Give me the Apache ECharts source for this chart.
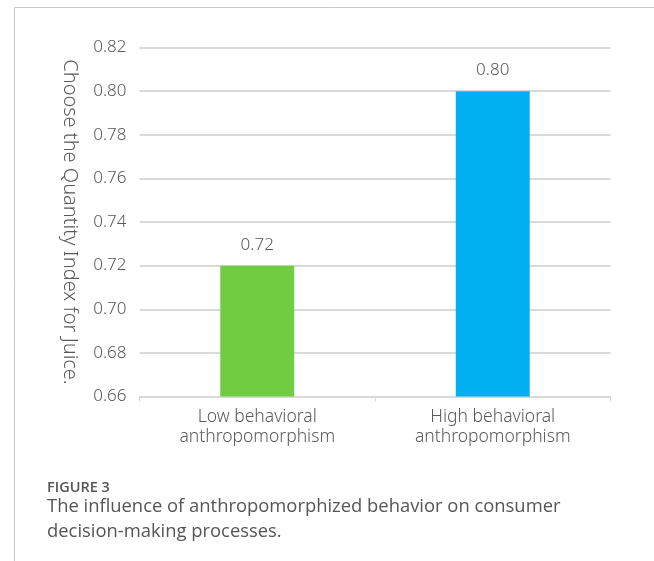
<!DOCTYPE html>
<html>
<head>
<meta charset="utf-8">
<style>
  html, body { margin: 0; padding: 0; background: #ffffff; }
  #chart { width: 654px; height: 561px; }
</style>
<script src="https://cdn.jsdelivr.net/npm/echarts@6/dist/echarts.min.js"></script>
</head>
<body>
<div id="chart"></div>
<script>
// Chart data
const categories = ['Low behavioral\nanthropomorphism', 'High behavioral\nanthropomorphism'];
const values = [0.72, 0.80];
const barColors = ['#70CC41', '#00B0F0'];
const yTicks = { min: 0.66, max: 0.82, step: 0.02 };
const yAxisTitle = 'Choose the Quantity Index for Juice.';
const figureLabel = 'FIGURE 3';
const captionLines = [
  'The influence of anthropomorphized behavior on consumer',
  'decision-making processes.'
];

const textColor = '#595959';
const chartFont = 'Noto Sans';
const chart = echarts.init(document.getElementById('chart'), null, { renderer: 'canvas' });

chart.setOption({
  animation: false,
  backgroundColor: '#ffffff',
  grid: { left: 139.5, right: 43.5, top: 47.5, bottom: 164.5, containLabel: false },
  xAxis: {
    type: 'category',
    data: categories,
    axisLine: { show: true, lineStyle: { color: '#d9d9d9', width: 1 } },
    axisTick: { show: true, alignWithLabel: false, length: 5, lineStyle: { color: '#d9d9d9' } },
    axisLabel: {
      color: textColor, fontSize: 17.5, lineHeight: 20, margin: 11,
      fontFamily: chartFont, fontWeight: 300
    }
  },
  yAxis: {
    type: 'value',
    min: yTicks.min,
    max: yTicks.max,
    interval: yTicks.step,
    name: yAxisTitle,
    nameLocation: 'middle',
    nameRotate: -90,
    nameGap: 60,
    nameTextStyle: { color: textColor, fontSize: 20, fontFamily: chartFont, fontWeight: 300 },
    axisLine: { show: false },
    axisTick: { show: false },
    axisLabel: {
      color: textColor, fontSize: 17, margin: 13,
      fontFamily: chartFont, fontWeight: 300,
      formatter: v => v.toFixed(2)
    },
    splitLine: { show: true, lineStyle: { color: '#d9d9d9', width: 2 } }
  },
  series: [{
    type: 'bar',
    data: values.map((v, i) => ({ value: v, itemStyle: { color: barColors[i] } })),
    barWidth: '31.4%',
    label: {
      show: true, position: 'top', distance: 12,
      color: textColor, fontSize: 17, fontFamily: chartFont, fontWeight: 300,
      formatter: p => p.value.toFixed(2)
    }
  }],
  graphic: [
    // page frame
    { type: 'line', shape: { x1: 14.5, y1: 7.5, x2: 654, y2: 7.5 }, style: { stroke: '#c8c8c8', lineWidth: 1 } },
    { type: 'line', shape: { x1: 14.5, y1: 7.5, x2: 14.5, y2: 561 }, style: { stroke: '#c8c8c8', lineWidth: 1 } },
    // caption
    { type: 'text', left: 47, top: 480, style: { text: figureLabel, fill: '#555555', font: '600 14.5px "Open Sans"' } },
    { type: 'text', left: 47, top: 498, style: { text: captionLines[0], fill: '#555555', font: '18.4px "Open Sans"' } },
    { type: 'text', left: 47, top: 523, style: { text: captionLines[1], fill: '#555555', font: '18.4px "Open Sans"' } }
  ]
});
</script>
</body>
</html>
